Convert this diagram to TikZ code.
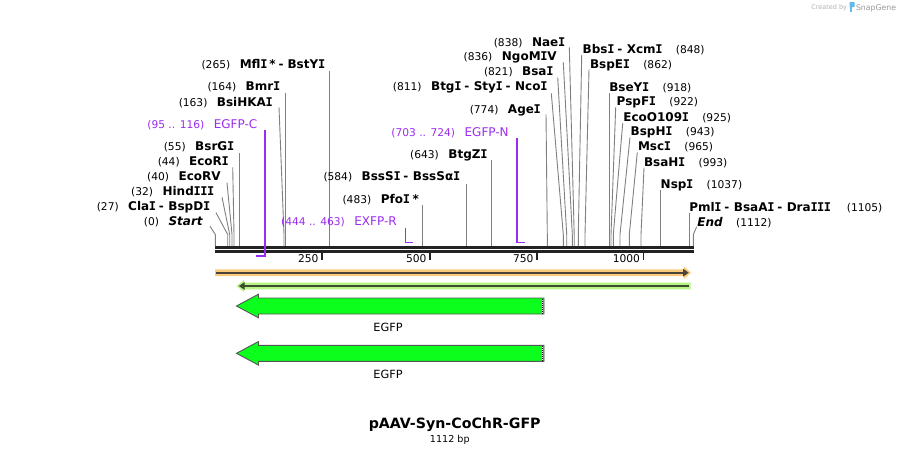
\documentclass[tikz,border=0pt]{standalone}
\usepackage{fontspec}
\setmainfont{DejaVu Sans}
\newfontfamily\monoI{DejaVu Sans Mono}
\usetikzlibrary{calc}
\definecolor{cutgray}{RGB}{128,128,128}
\definecolor{primer}{RGB}{155,45,240}
\definecolor{bbone}{RGB}{34,34,34}
\definecolor{orangeglow}{RGB}{250,202,125}
\definecolor{greenglow}{RGB}{185,245,130}
\definecolor{featgreen}{RGB}{12,255,28}
\definecolor{featedge}{RGB}{85,85,85}
\definecolor{darkline}{RGB}{75,68,60}
\definecolor{darkgline}{RGB}{60,78,50}
\definecolor{snapblue}{RGB}{95,185,235}
\newcommand\posn[1]{{\fontsize{10.67}{12}\selectfont #1}}
\newcommand\enzn[1]{{\fontsize{12}{14}\selectfont\bfseries #1}}
\newcommand\prmn[1]{{\fontsize{12}{14}\selectfont #1}}
\newcommand\gapn{\hspace{9.5pt}}
\newcommand\gapr{\hspace{13.5pt}}
\newcommand\dsh{\hspace{3pt}-\hspace{4.5pt}}
\newcommand\vI{\makebox[0.56em]{\monoI I}}
\begin{document}
\begin{tikzpicture}[x=1pt,y=-1pt,
  lbl/.style={inner sep=0pt,outer sep=0pt},
  lblL/.style={lbl,anchor=base east},
  lblR/.style={lbl,anchor=base west},
  cut/.style={draw=cutgray,line width=0.9pt},
  prm/.style={draw=primer,line width=1.7pt},
  tick/.style={draw=bbone,line width=1.5pt},
  ruler/.style={lbl,anchor=base east,font=\fontsize{10.67}{12}\selectfont},
  feat/.style={fill=featgreen,draw=featedge,line width=0.9pt,line join=miter},
  featlbl/.style={lbl,anchor=base,font=\fontsize{11.3}{13}\selectfont}]
\useasboundingbox (0,0) rectangle (909,456);
\fill[white] (0,0) rectangle (909,456);
\coordinate (kink) at (0,234.5);

% ---------- backbone ----------
\draw[bbone,line width=2.6pt] (215,247.5) -- (693.5,247.5);
\draw[bbone,line width=2.4pt] (215,251.4) -- (693.5,251.4);

% ---------- ruler ----------
\coordinate (t250) at (322,252.5);
\coordinate (t500) at (430,252.5);
\coordinate (t750) at (537,252.5);
\coordinate (t1000) at (643.5,252.5);
\foreach \t/\v in {t250/250,t500/500,t750/750,t1000/1000}{
  \draw[tick] (\t) -- ++(0,7);
  \node[ruler] at ([shift={(-3.5,10.4)}]\t) {\v};
}

% ---------- left-hand labels ----------
\node[lblL] (mfl) at (325,68) {\posn{(265)}\gapn\enzn{Mfl\vI\hspace{2pt}*\hspace{3pt}-\hspace{4pt}BstY\vI}};
\coordinate (mfl-b) at (329.3,246);
\draw[cut] ([shift={(4.3,2.7)}]mfl.base east) -- (mfl-b);

\node[lblL] (bmr) at (280,90.7) {\posn{(164)}\gapn\enzn{Bmr\vI}};
\coordinate (bmr-b) at (285.3,246);
\draw[cut] ([shift={(5.3,2)}]bmr.base east) -- (bmr-b);

\node[lblL] (bsihk) at (272.7,106) {\posn{(163)}\gapn\enzn{BsiHKA\vI}};
\coordinate (bsihk-b) at (284,246);
\draw[cut] ([shift={(6.3,1.3)}]bsihk.base east) -- (bsihk-b |- kink) -- (bsihk-b);

\node[lblL,text=primer] (egfpc) at (257.3,128) {\posn{(95 .. 116)}\gapn\prmn{EGFP-C}};
\coordinate (egfpc-b) at (256,255.7);
\draw[prm] ([shift={(8,2)}]egfpc.base east) |- (egfpc-b);

\node[lblL] (bsrg) at (234,150.7) {\posn{(55)}\gapn\enzn{BsrG\vI}};
\coordinate (bsrg-b) at (239.3,246);
\draw[cut] ([shift={(5.3,2.6)}]bsrg.base east) -- (bsrg-b);

\node[lblL] (ecori) at (228.7,165.7) {\posn{(44)}\gapn\enzn{EcoR\vI}};
\coordinate (ecori-b) at (234,246);
\draw[cut] ([shift={(4,1.6)}]ecori.base east) -- (ecori-b |- kink) -- (ecori-b);

\node[lblL] (ecorv) at (220.7,180.7) {\posn{(40)}\gapn\enzn{EcoRV}};
\coordinate (ecorv-b) at (232,246);
\draw[cut] ([shift={(6.3,2)}]ecorv.base east) -- (ecorv-b |- kink) -- (ecorv-b);

\node[lblL] (hind) at (214,195.7) {\posn{(32)}\gapn\enzn{Hind\vI\vI\vI}};
\coordinate (hind-b) at (229.7,246);
\draw[cut] ([shift={(8,1.6)}]hind.base east) -- (hind-b |- kink) -- (hind-b);

\node[lblL] (cla) at (210,210.7) {\posn{(27)}\gapn\enzn{Cla\vI\dsh BspD\vI}};
\coordinate (cla-b) at (227.7,246);
\draw[cut] ([shift={(6,2)}]cla.base east) -- (cla-b |- kink) -- (cla-b);

\node[lblL] (start) at (202.7,225.7) {\posn{(0)}\gapn\enzn{\itshape Start}};
\coordinate (start-b) at (215.3,246);
\draw[cut] ([shift={(7.3,0.5)}]start.base east) -- (start-b |- kink) -- (start-b);

% ---------- middle labels ----------
\node[lblL,text=primer] (exfpr) at (396.7,225.7) {\posn{(444 .. 463)}\gapn\prmn{EXFP-R}};
\coordinate (exfpr-b) at (413,242.4);
\draw[prm] ([shift={(8.8,2)}]exfpr.base east) |- (exfpr-b);

\node[lblL] (pfo) at (419,203) {\posn{(483)}\gapn\enzn{Pfo\vI\hspace{3pt}*}};
\coordinate (pfo-b) at (422.3,246);
\draw[cut] ([shift={(3.3,2)}]pfo.base east) -- (pfo-b);

\node[lblL] (bsss) at (460,180.7) {\posn{(584)}\gapn\enzn{BssS\vI\dsh BssSα\vI}};
\coordinate (bsss-b) at (466.3,246);
\draw[cut] ([shift={(6.3,3.3)}]bsss.base east) -- (bsss-b);

\node[lblL] (btgz) at (487.3,158) {\posn{(643)}\gapn\enzn{BtgZ\vI}};
\coordinate (btgz-b) at (491.3,246);
\draw[cut] ([shift={(4,2)}]btgz.base east) -- (btgz-b);

\node[lblL,text=primer] (egfpn) at (508.7,136) {\posn{(703 .. 724)}\gapn\prmn{EGFP-N}};
\coordinate (egfpn-b) at (524.7,242.4);
\draw[prm] ([shift={(8,2.3)}]egfpn.base east) |- (egfpn-b);

\node[lblL] (age) at (540.7,113) {\posn{(774)}\gapn\enzn{Age\vI}};
\coordinate (age-b) at (547.3,246);
\draw[cut] ([shift={(5.3,1.3)}]age.base east) -- (age-b |- kink) -- (age-b);

\node[lblL] (btg) at (547.3,90.7) {\posn{(811)}\gapn\enzn{Btg\vI\dsh Sty\vI\dsh Nco\vI}};
\coordinate (btg-b) at (563.3,246);
\draw[cut] ([shift={(4,2.6)}]btg.base east) -- (btg-b |- kink) -- (btg-b);

\node[lblL] (bsa) at (553.3,75.7) {\posn{(821)}\gapn\enzn{Bsa\vI}};
\coordinate (bsa-b) at (566.7,246);
\draw[cut] ([shift={(4.4,1.6)}]bsa.base east) -- (bsa-b |- kink) -- (bsa-b);

\node[lblL] (ngo) at (556.7,60.7) {\posn{(836)}\gapn\enzn{NgoM\vI V}};
\coordinate (ngo-b) at (572.3,246);
\draw[cut] ([shift={(6.6,1.6)}]ngo.base east) -- (ngo-b |- kink) -- (ngo-b);

\node[lblL] (nae) at (565,46) {\posn{(838)}\gapn\enzn{Nae\vI}};
\coordinate (nae-b) at (574.2,246);
\draw[cut] ([shift={(4.3,1.3)}]nae.base east) -- (nae-b |- kink) -- (nae-b);

% ---------- right-hand labels ----------
\node[lblR] (bbs) at (582.7,53) {\enzn{Bbs\vI\dsh Xcm\vI}\gapr\posn{(848)}};
\coordinate (bbs-b) at (578.3,246);
\draw[cut] ([shift={(-1,2)}]bbs.base west) -- (bbs-b |- kink) -- (bbs-b);

\node[lblR] (bspe) at (590,68.3) {\enzn{BspE\vI}\gapr\posn{(862)}};
\coordinate (bspe-b) at (585,246);
\draw[cut] ([shift={(-1,1)}]bspe.base west) -- (bspe-b |- kink) -- (bspe-b);

\node[lblR] (bsey) at (609.3,91.3) {\enzn{BseY\vI}\gapr\posn{(918)}};
\coordinate (bsey-b) at (609.3,246);
\draw[cut] ([shift={(0,2)}]bsey.base west) -- (bsey-b);

\node[lblR] (pspf) at (616.7,105.7) {\enzn{PspF\vI}\gapr\posn{(922)}};
\coordinate (pspf-b) at (611,246);
\draw[cut] ([shift={(-1,1.6)}]pspf.base west) -- (pspf-b |- kink) -- (pspf-b);

\node[lblR] (eco109) at (623.3,121.3) {\enzn{EcoO109\vI}\gapr\posn{(925)}};
\coordinate (eco109-b) at (613.3,246);
\draw[cut] ([shift={(-0.6,2)}]eco109.base west) -- (eco109-b |- kink) -- (eco109-b);

\node[lblR] (bsph) at (630.7,135.7) {\enzn{BspH\vI}\gapr\posn{(943)}};
\coordinate (bsph-b) at (620,246);
\draw[cut] ([shift={(-0.7,1.6)}]bsph.base west) -- (bsph-b |- kink) -- (bsph-b);

\node[lblR] (msc) at (638,150.7) {\enzn{Msc\vI}\gapr\posn{(965)}};
\coordinate (msc-b) at (629.3,246);
\draw[cut] ([shift={(-0.7,1.6)}]msc.base west) -- (msc-b |- kink) -- (msc-b);

\node[lblR] (bsah) at (644,166.3) {\enzn{BsaH\vI}\gapr\posn{(993)}};
\coordinate (bsah-b) at (641,246);
\draw[cut] ([shift={(0,1.4)}]bsah.base west) -- (bsah-b |- kink) -- (bsah-b);

\node[lblR] (nsp) at (660.7,188) {\enzn{Nsp\vI}\gapr\posn{(1037)}};
\coordinate (nsp-b) at (660,246);
\draw[cut] ([shift={(-0.7,2)}]nsp.base west) -- (nsp-b);

\node[lblR] (pml) at (689.3,211.3) {\enzn{Pml\vI\dsh BsaA\vI\dsh Dra\vI\vI\vI}\hspace{16pt}\posn{(1105)}};
\coordinate (pml-b) at (689.3,246);
\draw[cut] ([shift={(0,2)}]pml.base west) -- (pml-b);

\node[lblR] (endl) at (697.3,226.3) {\enzn{\itshape End}\gapr\posn{(1112)}};
\coordinate (endl-b) at (693.3,246);
\draw[cut] ([shift={(-0.6,0.4)}]endl.base west) -- (endl-b |- kink) -- (endl-b);

% ---------- strand arrows ----------
\fill[orangeglow] (215,269.3) -- (684,269.3) -- (684,266.5) -- (691,272.7) -- (684,279) -- (684,276) -- (215,276) -- cycle;
\draw[darkline,line width=1.7pt] (216,272.7) -- (684,272.7);
\fill[darkline] (683,268.7) -- (688.7,272.7) -- (683,276.7) -- cycle;

\fill[greenglow] (690.7,282.7) -- (244,282.7) -- (244,280) -- (236.5,286) -- (244,292) -- (244,289.3) -- (690.7,289.3) -- cycle;
\draw[darkgline,line width=1.7pt] (244,286) -- (689,286);
\fill[darkgline] (244.5,282.2) -- (238.8,286) -- (244.5,289.8) -- cycle;

% ---------- features ----------
\filldraw[feat] (236.5,306) -- (258.5,294.2) -- (258.5,298) -- (544,298) -- (544,314) -- (258.5,314) -- (258.5,317.8) -- cycle;
\draw[white,line width=1.2pt] (542.3,298.5) -- (542.3,313.5);
\draw[black,line width=1.2pt,dash pattern=on 1pt off 1pt] (542.3,298.5) -- (542.3,313.5);
\node[featlbl] (egfp1) at (388,331.7) {EGFP};

\filldraw[feat] (236.5,353.3) -- (258.5,341.5) -- (258.5,345.3) -- (544,345.3) -- (544,361.3) -- (258.5,361.3) -- (258.5,365.1) -- cycle;
\draw[white,line width=1.2pt] (542.3,345.8) -- (542.3,360.8);
\draw[black,line width=1.2pt,dash pattern=on 1pt off 1pt] (542.3,345.8) -- (542.3,360.8);
\node[featlbl] (egfp2) at (388,378.3) {EGFP};

% ---------- title ----------
\node[lbl,anchor=base,font=\fontsize{14.2}{16}\selectfont\bfseries] (title) at (454.7,428.5) {pAAV-Syn-CoChR-GFP};
\node[lbl,anchor=base,font=\fontsize{9.6}{11}\selectfont] (len) at (449.8,442.5) {1112 bp};

% ---------- credit ----------
\node[lbl,anchor=base east,text=black!30,font=\fontsize{6.5}{8}\selectfont] (cred) at (847,9.5) {Created by};
\fill[snapblue,rounded corners=0.6pt] (849.5,2) rectangle (854.5,7.2);
\fill[snapblue] (849.5,6.5) rectangle (851.8,12);
\node[lbl,anchor=base west,text=black!40,font=\fontsize{7.8}{9}\selectfont] (sg) at (856,10) {SnapGene};
\end{tikzpicture}
\end{document}
